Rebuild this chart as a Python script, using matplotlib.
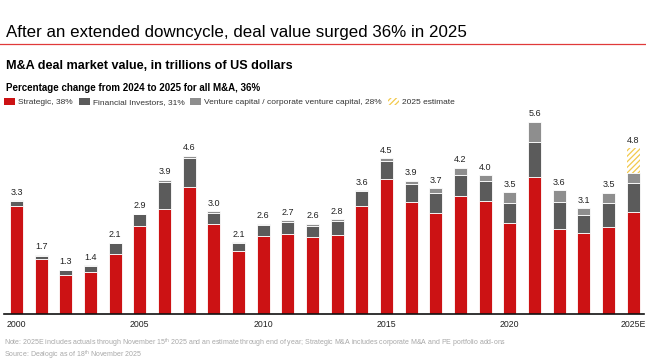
import numpy as np
import matplotlib
matplotlib.use('Agg')
import matplotlib.pyplot as plt
from matplotlib.patches import Patch
from matplotlib.lines import Line2D

plt.rcParams['font.family'] = ['Liberation Sans', 'DejaVu Sans']
plt.rcParams['mathtext.fontset'] = 'custom'
plt.rcParams['mathtext.rm'] = 'Liberation Sans'
plt.rcParams['hatch.linewidth'] = 0.9

# ---------------------------------------------------------------------------
# 数据 (万亿美元)
# ---------------------------------------------------------------------------
years = ['2000', '2001', '2002', '2003', '2004', '2005', '2006', '2007', '2008',
         '2009', '2010', '2011', '2012', '2013', '2014', '2015', '2016', '2017',
         '2018', '2019', '2020', '2021', '2022', '2023', '2024', '2025E']
strategic = [3.15, 1.61, 1.13, 1.21, 1.75, 2.55, 3.05, 3.68, 2.61, 1.82, 2.26,
             2.34, 2.23, 2.31, 3.15, 3.91, 3.25, 2.93, 3.42, 3.28, 2.64, 3.97,
             2.47, 2.35, 2.53, 2.96]
financial = [0.14, 0.09, 0.15, 0.19, 0.30, 0.35, 0.78, 0.86, 0.34, 0.23, 0.34,
             0.32, 0.34, 0.40, 0.42, 0.53, 0.53, 0.58, 0.61, 0.59, 0.60, 1.02,
             0.78, 0.52, 0.71, 0.84]
venture = [0.02, 0.02, 0.01, 0.01, 0.02, 0.02, 0.07, 0.06, 0.04, 0.04, 0.03,
           0.07, 0.05, 0.05, 0.03, 0.09, 0.10, 0.14, 0.22, 0.17, 0.30, 0.60,
           0.35, 0.21, 0.28, 0.30]
estimate = [0, 0, 0, 0, 0, 0, 0, 0, 0, 0, 0, 0, 0, 0, 0, 0, 0, 0, 0, 0, 0, 0,
            0, 0, 0, 0.72]
total_labels = ['3.3', '1.7', '1.3', '1.4', '2.1', '2.9', '3.9', '4.6', '3.0',
                '2.1', '2.6', '2.7', '2.6', '2.8', '3.6', '4.5', '3.9', '3.7',
                '4.2', '4.0', '3.5', '5.6', '3.6', '3.1', '3.5', '4.8']
tick_years = ['2000', '2005', '2010', '2015', '2020', '2025E']

RED = '#cc1214'
DARK = '#5b5b5b'
LIGHT = '#8e8e8e'
GOLD = '#f2c94c'

x = np.arange(len(years))
s = np.array(strategic)
f = np.array(financial)
v = np.array(venture)
e = np.array(estimate)

fig = plt.figure(figsize=(6.46, 3.63), dpi=100)
ax = fig.add_axes([4 / 646, 49 / 363, 640 / 646, 200 / 363])

w = 0.53
ax.bar(x, s, w, color=RED, edgecolor='white', linewidth=0.6)
ax.bar(x, f, w, bottom=s, color=DARK, edgecolor='white', linewidth=0.6)
ax.bar(x, v, w, bottom=s + f, color=LIGHT, edgecolor='white', linewidth=0.6)
est_mask = e > 0
ax.bar(x[est_mask], e[est_mask], w, bottom=(s + f + v)[est_mask],
       color='white', edgecolor=GOLD, hatch='//////', linewidth=0)

tops = s + f + v + e
for xi, top, lab in zip(x, tops, total_labels):
    ax.annotate(lab, (xi, top), xytext=(0, 2.5), textcoords='offset points',
                ha='center', va='bottom', fontsize=6.5, color='#222222')

ax.set_xlim(-0.507, 25.44)
ax.set_ylim(0, 5.814)
ax.set_xticks([years.index(t) for t in tick_years])
ax.set_xticklabels(tick_years, fontsize=6.3, color='#222222')
ax.tick_params(axis='x', length=0, pad=4.5)
ax.set_yticks([])
for side in ['top', 'right', 'left']:
    ax.spines[side].set_visible(False)
ax.spines['bottom'].set_color('#111111')
ax.spines['bottom'].set_linewidth(1.2)

# 标题与副标题
fig.text(6 / 646, 1 - 32 / 363, 'After an extended downcycle, deal value surged 36% in 2025',
         fontsize=12.2, va='center', ha='left', color='black')
fig.add_artist(Line2D([0, 1], [1 - 44 / 363, 1 - 44 / 363], color='#e03a3a',
                      linewidth=0.9, transform=fig.transFigure))
fig.text(6 / 646, 1 - 66 / 363, 'M&A deal market value, in trillions of US dollars',
         fontsize=9.1, fontweight='bold', va='center', ha='left')
fig.text(6 / 646, 1 - 88 / 363, 'Percentage change from 2024 to 2025 for all M&A, 36%',
         fontsize=7, fontweight='bold', va='center', ha='left')

handles = [Patch(facecolor=RED, edgecolor='none'),
           Patch(facecolor=DARK, edgecolor='none'),
           Patch(facecolor=LIGHT, edgecolor='none'),
           Patch(facecolor='white', edgecolor=GOLD, hatch='//////', linewidth=0)]
labels = ['Strategic, 38%', 'Financial Investors, 31%',
          'Venture capital / corporate venture capital, 28%', '2025 estimate']
fig.legend(handles, labels, loc='center left', bbox_to_anchor=(4 / 646, 1 - 102 / 363),
           ncol=4, frameon=False, fontsize=6.05, handlelength=1.3, handleheight=0.95,
           handletextpad=0.36, columnspacing=0.72, borderpad=0, borderaxespad=0,
           labelcolor='#333333')

fig.text(4 / 646, 1 - 343 / 363,
         'Note: 2025E includes actuals through November 15$^{\\mathrm{th}}$ 2025 and an estimate '
         'through end of year; Strategic M&A includes corporate M&A and PE portfolio add-ons',
         fontsize=5.0, color='#a8a8a8', va='center', ha='left')
fig.text(4 / 646, 1 - 355 / 363, 'Source: Dealogic as of 18$^{\\mathrm{th}}$ November 2025',
         fontsize=5.0, color='#a8a8a8', va='center', ha='left')

fig.savefig('out.png', dpi=100)
